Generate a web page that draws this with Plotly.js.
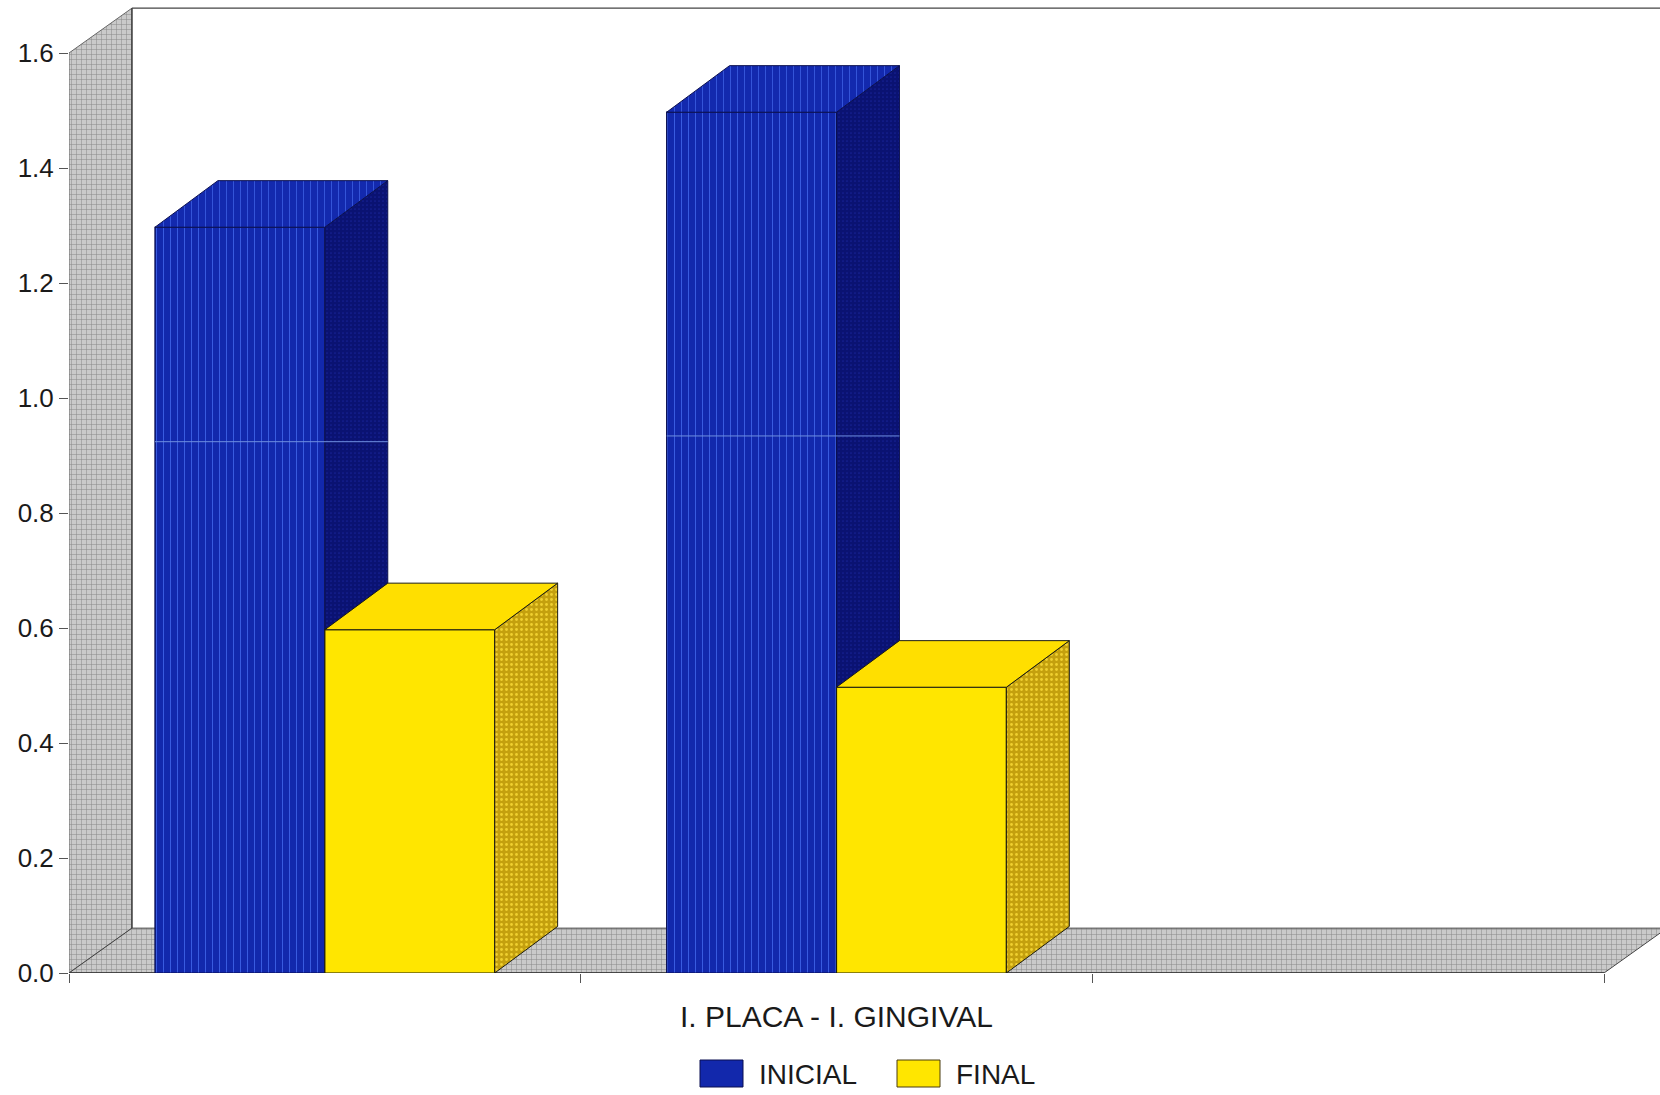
<!DOCTYPE html>
<html>
<head>
<meta charset="utf-8">
<script src="https://cdn.plot.ly/plotly-3.0.1.min.js"></script>
<style>html,body{margin:0;padding:0;background:#fff}</style>
</head>
<body>
<div id="chart" style="width:1660px;height:1095px"></div>
<script>
// Mean index values per category, initial and final examination
const categories = ['I. PLACA', 'I. GINGIVAL'];
const inicial = [1.297, 1.497];
const final = [0.597, 0.497];
const seriesNames = ['INICIAL', 'FINAL'];
const yTicks = [0, 0.2, 0.4, 0.6, 0.8, 1.0, 1.2, 1.4, 1.6];
// Light scan seam running across the tall bars
const seam = [0.924, 0.934];

// The axes reach past the labelled span so the oblique box depth stays on the plot
const xSpan = [-0.5, 2.5];
const ySpan = [0, 1.6];
const xRange = [-0.5, 2.6094];
const yRange = [0, 1.68];
const wallDepthX = 0.123, wallDepthY = 0.078;
const barDepthX = 0.123, barDepthY = 0.081;
const barW = 0.332;

const ML = 69, MR = 0, MT = 7, MB = 122;
const W = 1660, H = 1095;
const plotW = W - ML - MR, plotH = H - MT - MB;
const px = v => (v - ML) / plotW;
const py = v => (H - MB - v) / plotH;

const idx = categories.map((_, i) => i);
const wallPattern = {shape: '+', fgcolor: '#8a8a8a', bgcolor: '#cacaca', size: 5, solidity: 0.2};

function poly(xs, ys, color, lineColor, pattern, xa, ya, name) {
  return {
    type: 'scatter', mode: 'lines', x: xs, y: ys, xaxis: xa, yaxis: ya, name,
    fill: 'toself', fillcolor: color, fillpattern: pattern,
    line: {color: lineColor, width: 1}, hoverinfo: 'skip', showlegend: false
  };
}
function edge(xs, ys, color, width) {
  return {type: 'scatter', mode: 'lines', x: xs, y: ys, xaxis: 'x', yaxis: 'y',
          line: {color, width}, hoverinfo: 'skip', showlegend: false};
}

// Side wall, floor and outline of the chart box
const x0 = xSpan[0], x1 = xSpan[1], yT = ySpan[1];
const backX = x0 + wallDepthX, backTop = yT + wallDepthY;
const walls = [
  poly([x0, backX, backX, x0, x0], [0, wallDepthY, backTop, yT, 0],
       '#cacaca', '#666666', wallPattern, 'x', 'y', 'wall'),
  poly([x0, x1, x1 + wallDepthX, backX, x0], [0, 0, wallDepthY, wallDepthY, 0],
       '#cacaca', '#444444', wallPattern, 'x', 'y', 'floor'),
  edge([backX, x1 + wallDepthX], [backTop, backTop], '#444444', 1.2),
  edge([backX, backX], [wallDepthY, backTop], '#333333', 1.2),
  edge([x0, x1], [0, 0], '#333333', 1.5)
];

function boxFaces(values, offset, style, xa, ya, name) {
  const tx = [], ty = [], sx = [], sy = [];
  values.forEach((v, i) => {
    const a = idx[i] + offset, b = a + barW;
    tx.push(a, b, b + barDepthX, a + barDepthX, a, null);
    ty.push(v, v, v + barDepthY, v + barDepthY, v, null);
    sx.push(b, b + barDepthX, b + barDepthX, b, b, null);
    sy.push(0, barDepthY, v + barDepthY, v, 0, null);
  });
  return [
    {type: 'bar', x: idx, y: values, width: barW, offset: offset, xaxis: xa, yaxis: ya, name,
     text: categories, hovertemplate: '%{text}: %{y}<extra>' + name + '</extra>', textposition: 'none',
     marker: {color: style.front, line: {color: style.edge, width: 1.2}, pattern: style.frontPattern},
     showlegend: false},
    poly(sx, sy, style.side, style.edge, style.sidePattern, xa, ya, name + ' side'),
    poly(tx, ty, style.top, style.edge, style.topPattern, xa, ya, name + ' top')
  ];
}

const blueStyle = {
  front: '#1228ac', top: '#1329ae', side: '#0a1272', edge: '#0a0f50',
  frontPattern: {shape: '|', fgcolor: '#3a5ce0', bgcolor: '#1228ac', size: 7, solidity: 0.14},
  topPattern: {shape: '|', fgcolor: '#3a5ce0', bgcolor: '#1329ae', size: 7, solidity: 0.12},
  sidePattern: {shape: '.', fgcolor: '#162094', bgcolor: '#0a1272', size: 4, solidity: 0.15}
};
const yellowStyle = {
  front: '#ffe600', top: '#ffdf00', side: '#cea90e', edge: '#1c1c10',
  frontPattern: {shape: ''}, topPattern: {shape: ''},
  sidePattern: {shape: '.', fgcolor: '#f0d030', bgcolor: '#c4a00e', size: 5, solidity: 0.25}
};

const seamTraces = seam.map((v, i) => ({
  type: 'scatter', mode: 'lines',
  x: [idx[i] - barW, idx[i] + barDepthX], y: [v, v], xaxis: 'x2', yaxis: 'y2',
  line: {color: '#6f8fe0', width: 1}, hoverinfo: 'skip', showlegend: false
}));

const traces = [
  ...walls,
  ...boxFaces(inicial, -barW, blueStyle, 'x2', 'y2', seriesNames[0]),
  ...seamTraces,
  ...boxFaces(final, 0, yellowStyle, 'x3', 'y3', seriesNames[1])
];

const hiddenX = {range: xRange, visible: false, fixedrange: true};
const hiddenY = {range: yRange, visible: false, fixedrange: true};

// Legend keys are drawn wider than Plotly's own swatches
const keyStyle = [
  {fill: '#1228ac', line: '#0a0f50', x0: 700, x1: 743, tx: 757},
  {fill: '#ffe600', line: '#4a3c10', x0: 897, x1: 940, tx: 954}
];
const keyTop = 1060, keyBottom = 1087;

const layout = {
  width: W, height: H,
  margin: {l: ML, r: MR, t: MT, b: MB, pad: 0},
  paper_bgcolor: '#ffffff', plot_bgcolor: 'rgba(0,0,0,0)',
  showlegend: false,
  font: {family: '"Liberation Sans", Arial, sans-serif', color: '#1a1a1a', size: 26},
  xaxis: {
    range: xRange, tickmode: 'array', tickvals: [-0.5, 0.5, 1.5, 2.5], ticktext: ['', '', '', ''],
    ticks: 'outside', ticklen: 9, tickcolor: '#555555', tickwidth: 1,
    showline: false, showgrid: false, zeroline: false, fixedrange: true
  },
  yaxis: {
    range: yRange, tickmode: 'array', tickvals: yTicks, ticktext: yTicks.map(v => v.toFixed(1)),
    ticks: 'outside', ticklen: 9, tickcolor: '#555555', tickwidth: 1,
    tickfont: {size: 26, color: '#1a1a1a'},
    showline: false, showgrid: false, zeroline: false, fixedrange: true
  },
  xaxis2: {...hiddenX, overlaying: 'x', anchor: 'y2'},
  yaxis2: {...hiddenY, overlaying: 'y', anchor: 'x2'},
  xaxis3: {...hiddenX, overlaying: 'x', anchor: 'y3'},
  yaxis3: {...hiddenY, overlaying: 'y', anchor: 'x3'},
  shapes: keyStyle.map(k => ({
    type: 'rect', xref: 'paper', yref: 'paper',
    x0: px(k.x0), x1: px(k.x1), y0: py(keyBottom), y1: py(keyTop),
    fillcolor: k.fill, line: {color: k.line, width: 1}
  })),
  annotations: [
    {xref: 'x', yref: 'paper', x: (xSpan[0] + xSpan[1]) / 2, y: py(1016),
     xanchor: 'center', yanchor: 'middle', showarrow: false,
     text: categories.join(' - '), font: {size: 30, color: '#1a1a1a'}},
    ...keyStyle.map((k, i) => ({
      xref: 'paper', yref: 'paper', x: px(k.tx), y: py((keyTop + keyBottom) / 2 + 1),
      xanchor: 'left', yanchor: 'middle', showarrow: false,
      text: seriesNames[i], font: {size: 28, color: '#1a1a1a'}
    }))
  ]
};

Plotly.newPlot('chart', traces, layout, {displayModeBar: false, responsive: false});
</script>
</body>
</html>
